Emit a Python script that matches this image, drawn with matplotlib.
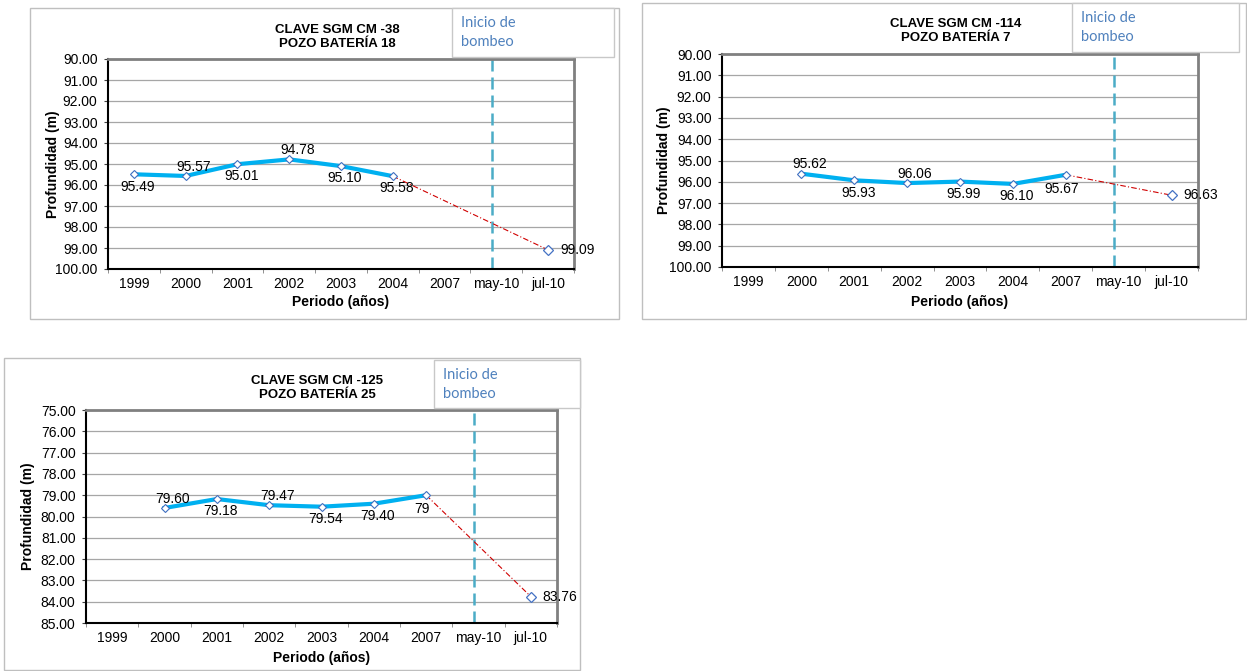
import numpy as np
import matplotlib
matplotlib.use('Agg')
from matplotlib import pyplot as plt
from matplotlib.patches import Rectangle

plt.rcParams['font.family'] = ['Liberation Sans', 'DejaVu Sans']

W, H = 1247, 671

categories = ['1999', '2000', '2001', '2002', '2003', '2004', '2007', 'may-10', 'jul-10']

nan = np.nan
depth_cm38 = [95.49, 95.57, 95.01, 94.78, 95.10, 95.58, nan, nan, 99.09]
depth_cm114 = [nan, 95.62, 95.93, 96.06, 95.99, 96.10, 95.67, nan, 96.63]
depth_cm125 = [nan, 79.60, 79.18, 79.47, 79.54, 79.40, 79.00, nan, 83.76]

titles = ['CLAVE SGM CM -38\nPOZO BATERÍA 18',
          'CLAVE SGM CM -114\nPOZO BATERÍA 7',
          'CLAVE SGM CM -125\nPOZO BATERÍA 25']
y_ranges = [(90, 100), (90, 100), (75, 85)]
pump_start = 6.92   # 'Inicio de bombeo' line, just before may-10

# where each data label sits: a=above, b=below, r=right, bl=below left
label_pos = [['b', 'a', 'b', 'a', 'b', 'b', None, None, 'r'],
             [None, 'a', 'b', 'a', 'b', 'b', 'bl', None, 'r'],
             [None, 'a', 'b', 'a', 'b', 'b', 'bl', None, 'r']]

# pixel boxes (left, top, right, bottom)
layout = [
    dict(frame=(30, 8, 619, 319), plot=(108, 59, 574, 269), legend=(452, 8, 614, 57),
         title_y=37, ylabel_x=53, xlabel_y=302),
    dict(frame=(642, 3, 1246, 319), plot=(722, 54, 1198, 267), legend=(1072, 3, 1239, 52),
         title_y=31, ylabel_x=664, xlabel_y=302),
    dict(frame=(4, 358, 580, 670), plot=(86, 410, 557, 623), legend=(434, 360, 580, 408),
         title_y=388, ylabel_x=28, xlabel_y=658),
]

offsets = {'a': ((5.8, 6.8), 'center'), 'b': ((2.9, -8.8), 'center'),
           'r': ((8.6, 0), 'left'), 'bl': ((-2.9, -10), 'center')}

LINE = '#00B0F0'
MARK = '#3F6FC0'


def fx(x):
    return x / W


def fy(y):
    return 1 - y / H


def box(b):
    x0, y0, x1, y1 = b
    return [fx(x0), fy(y1), (x1 - x0) / W, (y1 - y0) / H]


def fmt(v):
    if v == int(v):
        return '%d' % v
    return '%.2f' % v


fig = plt.figure(figsize=(W / 100, H / 100), dpi=100)

series = [depth_cm38, depth_cm114, depth_cm125]

for i, values in enumerate(series):
    lay = layout[i]
    vals = np.array(values, dtype=float)
    xs = np.arange(len(categories))

    # outer frame of each chart
    fb = box(lay['frame'])
    fig.patches.append(Rectangle((fb[0], fb[1]), fb[2], fb[3],
                                 transform=fig.transFigure, fill=False,
                                 edgecolor='#BFBFBF', lw=1, zorder=0))

    ax = fig.add_axes(box(lay['plot']))
    lo, hi = y_ranges[i]
    ax.set_xlim(-0.5, len(categories) - 0.5)
    ax.set_ylim(hi, lo)
    ax.set_yticks(np.arange(lo, hi + 1, 1))
    ax.set_yticklabels(['%.2f' % t for t in np.arange(lo, hi + 1, 1)], fontsize=10)
    ax.set_xticks(xs)
    ax.set_xticklabels(categories, fontsize=10)
    ax.set_xticks(np.arange(-0.5, len(categories), 1), minor=True)
    ax.tick_params(axis='x', which='major', length=0, pad=6)
    ax.tick_params(axis='x', which='minor', length=3, color='#808080', direction='out')
    ax.tick_params(axis='y', length=3, color='#404040', pad=4.5)
    ax.yaxis.grid(True, color='#A6A6A6', lw=0.9)
    ax.set_axisbelow(True)
    for s in ['left', 'bottom']:
        ax.spines[s].set_color('black')
        ax.spines[s].set_linewidth(1.5)
    for s in ['top', 'right']:
        ax.spines[s].set_color('#808080')
        ax.spines[s].set_linewidth(2)

    # measured series (solid) and projection to jul-10 (red dash-dot)
    valid = ~np.isnan(vals)
    idx = xs[valid]
    solid = idx[:-1]
    ax.plot(solid, vals[solid], color=LINE, lw=3, zorder=3)
    ax.plot([solid[-1], idx[-1]], [vals[solid[-1]], vals[idx[-1]]],
            color='#D00000', lw=0.8, linestyle=(0, (5, 2, 1, 2)), zorder=3)
    ax.plot(solid, vals[solid], linestyle='none', marker='D', markersize=4,
            markerfacecolor='white', markeredgecolor=MARK, markeredgewidth=0.8, zorder=4)
    ax.plot([idx[-1]], [vals[idx[-1]]], linestyle='none', marker='D', markersize=4.8,
            markerfacecolor='white', markeredgecolor='#4472C4', markeredgewidth=0.9, zorder=4)

    ax.axvline(pump_start, color='#4BACC6', lw=1.8, dashes=(4.8, 2.4), zorder=2)

    for k in idx:
        (dx, dy), ha = offsets[label_pos[i][k]]
        ax.annotate(fmt(vals[k]), (k, vals[k]), xytext=(dx, dy), textcoords='offset points',
                    ha=ha, va='center', fontsize=10, zorder=5)

    x0, y0, x1, y1 = lay['plot']
    cx = (x0 + x1) / 2
    fig.text(fx(cx - 4), fy(lay['title_y']), titles[i], ha='center', va='center',
             fontsize=9.5, fontweight='bold', linespacing=1.3)
    fig.text(fx(lay['ylabel_x']), fy((y0 + y1) / 2), 'Profundidad (m)', rotation=90,
             ha='center', va='center', fontsize=10, fontweight='bold')
    fig.text(fx(cx), fy(lay['xlabel_y']), 'Periodo (años)', ha='center', va='center',
             fontsize=10, fontweight='bold')

    # "Inicio de bombeo" text box
    lb = box(lay['legend'])
    fig.patches.append(Rectangle((lb[0], lb[1]), lb[2], lb[3], transform=fig.transFigure,
                                 facecolor='white', edgecolor='#C8C8C8', lw=1, zorder=1))
    lx0, ly0, lx1, ly1 = lay['legend']
    fig.text(fx(lx0 + 9), fy(ly0 + 15), 'Inicio de', ha='left', va='center',
             fontsize=10.5, color='#4F81BD', family=['Lato', 'DejaVu Sans'])
    fig.text(fx(lx0 + 9), fy(ly0 + 34), 'bombeo', ha='left', va='center',
             fontsize=10.5, color='#4F81BD', family=['Lato', 'DejaVu Sans'])

fig.savefig('out.png', dpi=100)
